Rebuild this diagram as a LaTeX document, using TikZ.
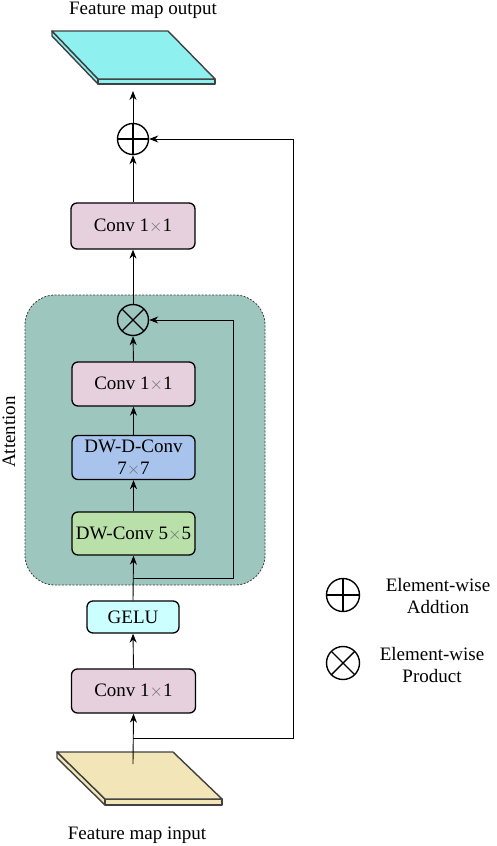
\documentclass[tikz,border=0pt]{standalone}
\usepackage{fontspec}
\setmainfont{Liberation Serif}
\usetikzlibrary{arrows.meta}
\definecolor{attfill}{HTML}{9DC6BF}
\definecolor{convpink}{HTML}{E6D0DE}
\definecolor{dwdblue}{HTML}{A8C4EC}
\definecolor{dwgreen}{HTML}{B8E0A8}
\definecolor{gelucyan}{HTML}{CCFFFF}
\definecolor{outplate}{HTML}{8FF0F0}
\definecolor{inplate}{HTML}{F2E6B8}
\definecolor{edge}{HTML}{404040}
\definecolor{crossgray}{HTML}{707070}
\newcommand{\xx}{{\color{crossgray}$\times$}}
\tikzset{
  blk/.style={draw=black, line width=1.3pt, rounded corners=6pt, align=center,
    font=\fontsize{19}{22}\selectfont, inner sep=0pt},
  arr/.style={line width=0.9pt, -{Stealth[length=9pt,width=7pt]}},
  lnk/.style={line width=0.9pt},
  opcirc/.style={circle, draw=black, line width=1.4pt, minimum size=31pt, inner sep=0pt},
  plus/.style={opcirc, path picture={
      \draw[line width=1.4pt] (path picture bounding box.north) -- (path picture bounding box.south)
        (path picture bounding box.west) -- (path picture bounding box.east);}},
  times/.style={opcirc, path picture={
      \draw[line width=1.4pt] (path picture bounding box.north west) -- (path picture bounding box.south east)
        (path picture bounding box.north east) -- (path picture bounding box.south west);}},
  plate/.style={draw=edge, line width=1.4pt, line join=round},
  lbl/.style={font=\fontsize{19}{22}\selectfont, align=center, inner sep=0pt},
}
\begin{document}
\begin{tikzpicture}[x=1pt, y=-1pt]
\useasboundingbox (0,0) rectangle (496,846);

% attention container
\node (att) [draw=edge, line width=0.8pt, dash pattern=on 2pt off 1.5pt, rounded corners=30pt,
  fill=attfill, minimum width=240pt, minimum height=290pt] at (145,440) {};
\node (attlbl) [lbl, rotate=90] at (9,432) {Attention};

% output plate
\filldraw[plate, fill=outplate] (52,31) -- (98,79) -- (98,84) -- (52,36) -- cycle;
\filldraw[plate, fill=outplate] (98,79) -- (215,79) -- (215,84) -- (98,84) -- cycle;
\filldraw[plate, fill=outplate] (52,31) -- (168,31) -- (215,79) -- (98,79) -- cycle;
\coordinate (outbot) at (133,91);
\node (outlbl) [lbl] at (143,10.5) {Feature map output};

% input plate
\filldraw[plate, fill=inplate] (57,752) -- (105,799) -- (105,805) -- (57,758) -- cycle;
\filldraw[plate, fill=inplate] (105,799) -- (222,799) -- (222,805) -- (105,805) -- cycle;
\filldraw[plate, fill=inplate] (57,752) -- (173,752) -- (222,799) -- (105,799) -- cycle;
\coordinate (instart) at (133,764);
\node (inlbl) [lbl] at (137,835) {Feature map input};

% blocks
\node (plusop) [plus] at (133,139) {};
\node (conv3) [blk, fill=convpink, minimum width=124pt, minimum height=46pt] at (133,226) {Conv 1\xx1};
\node (timesop) [times] at (133,320) {};
\node (conv2) [blk, fill=convpink, minimum width=123pt, minimum height=44pt] at (133.5,384) {Conv 1\xx1};
\node (dwd) [blk, fill=dwdblue, minimum width=123pt, minimum height=44pt] at (133.5,457.5) {DW-D-Conv\\7\xx7};
\node (dw) [blk, fill=dwgreen, minimum width=123pt, minimum height=43pt] at (133.5,533.5) {DW-Conv 5\xx5};
\node (gelu) [blk, fill=gelucyan, minimum width=92pt, minimum height=32pt] at (133,617) {GELU};
\node (conv1) [blk, fill=convpink, minimum width=124pt, minimum height=44pt] at (133.5,691) {Conv 1\xx1};

% connectors
\coordinate (split1) at (133,738);
\coordinate (r1) at (293,738);
\coordinate (split2) at (133,578);
\coordinate (r2) at (233,578);
\draw[arr] (instart) -- (conv1.south);
\draw[arr] (split1) -- (r1) |- (plusop.east);
\draw[arr] (conv1.north) -- (gelu.south);
\draw[arr] (gelu.north) -- (dw.south);
\draw[arr] (split2) -- (r2) |- (timesop.east);
\draw[arr] (dw.north) -- (dwd.south);
\draw[arr] (dwd.north) -- (conv2.south);
\draw[arr] (conv2.north) -- (timesop.south);
\draw[arr] (timesop.north) -- (conv3.south);
\draw[arr] (conv3.north) -- (plusop.south);
\draw[arr] (plusop.north) -- (outbot);

% legend
\node (lplus) [plus, minimum size=33pt] at (343,595) {};
\node (lplustxt) [lbl] at (438,596) {Element-wise\\Addtion};
\node (ltimes) [times, minimum size=33pt] at (343,663) {};
\node (ltimestxt) [lbl] at (432,665) {Element-wise\\Product};
\end{tikzpicture}
\end{document}
